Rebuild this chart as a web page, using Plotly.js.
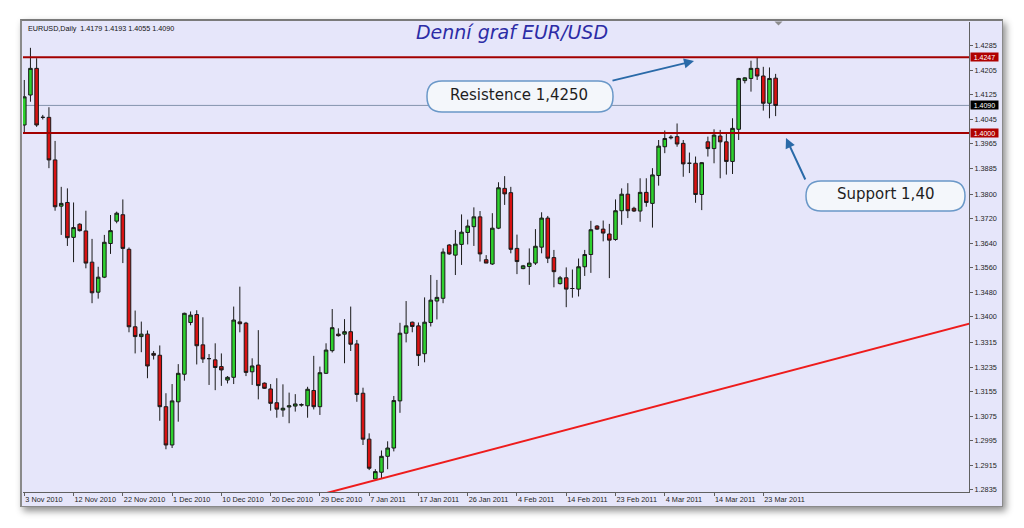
<!DOCTYPE html>
<html>
<head>
<meta charset="utf-8">
<script src="https://cdn.plot.ly/plotly-3.0.1.min.js"></script>
<style>
  html, body { margin:0; padding:0; background:#ffffff; }
  #win { position:absolute; left:20px; top:19px; width:983px; height:488px; background:#e6e6fa;
         border:1px solid #8a8a8a; border-top:2px solid #7a7a7a; border-left:2px solid #8a8a8a; box-sizing:border-box;
         box-shadow: 3px 4px 7px rgba(0,0,0,0.45); }
  #chart { position:absolute; left:0; top:0; width:1024px; height:528px; }
</style>
</head>
<body>
<div id="win"></div>
<div id="chart"></div>
<script>
// ---- data (EURUSD daily, 3 Nov 2010 - 25 Mar 2011) ----
const openP = [1.4026,1.4124,1.4211,1.4051,1.4051,1.3912,1.3761,1.3773,1.3659,1.3702,
1.3680,1.3578,1.3480,1.3529,1.3639,1.3712,1.3733,1.3620,1.3367,1.3335,
1.3343,1.3280,1.3274,1.3106,1.2981,1.3122,1.3212,1.3381,1.3407,1.3308,
1.3263,1.3259,1.3237,1.3193,1.3202,1.3383,1.3379,1.3220,1.3242,1.3183,
1.3164,1.3119,1.3095,1.3105,1.3108,1.3111,1.3109,1.3159,1.3106,1.3215,
1.3289,1.3343,1.3343,1.3351,1.3311,1.3150,1.3000,1.2870,1.2892,1.2944,
1.2971,1.3125,1.3346,1.3382,1.3370,1.3279,1.3381,1.3451,1.3460,1.3634,
1.3601,1.3636,1.3675,1.3694,1.3726,1.3586,1.3572,1.3689,1.3819,1.3805,
1.3623,1.3557,1.3564,1.3575,1.3627,1.3722,1.3593,1.3508,1.3527,1.3492,
1.3490,1.3563,1.3603,1.3696,1.3686,1.3670,1.3652,1.3746,1.3800,1.3754,
1.3745,1.3806,1.3770,1.3861,1.3955,1.3984,1.3988,1.3966,1.3901,1.3901,
1.3799,1.3971,1.3949,1.3990,1.3971,1.3907,1.4012,1.4171,1.4178,1.4211,
1.4186,1.4097,1.4179];

const highP = [1.4173,1.4278,1.4244,1.4059,1.4084,1.3974,1.3824,1.3819,1.3773,1.3705,
1.3746,1.3654,1.3563,1.3667,1.3732,1.3743,1.3783,1.3626,1.3420,1.3384,
1.3355,1.3288,1.3306,1.3150,1.3180,1.3245,1.3413,1.3417,1.3421,1.3398,
1.3278,1.3313,1.3280,1.3206,1.3433,1.3498,1.3383,1.3264,1.3356,1.3185,
1.3180,1.3199,1.3179,1.3152,1.3147,1.3117,1.3171,1.3272,1.3237,1.3313,
1.3425,1.3362,1.3392,1.3433,1.3324,1.3168,1.3019,1.2902,1.2963,1.2993,
1.3141,1.3380,1.3451,1.3384,1.3381,1.3463,1.3536,1.3520,1.3623,1.3637,
1.3683,1.3734,1.3717,1.3757,1.3745,1.3601,1.3738,1.3839,1.3859,1.3824,
1.3668,1.3569,1.3623,1.3686,1.3741,1.3729,1.3618,1.3533,1.3561,1.3554,
1.3590,1.3618,1.3713,1.3699,1.3714,1.3703,1.3783,1.3819,1.3836,1.3759,
1.3852,1.3852,1.3885,1.3977,1.4008,1.3993,1.4031,1.3977,1.3936,1.3923,
1.3905,1.3988,1.4012,1.4010,1.3997,1.4048,1.4180,1.4182,1.4236,1.4247,
1.4216,1.4214,1.4193];

const lowP = [1.3999,1.4102,1.4020,1.4044,1.3885,1.3746,1.3667,1.3631,1.3578,1.3678,
1.3558,1.3444,1.3459,1.3526,1.3605,1.3705,1.3575,1.3349,1.3280,1.3284,
1.3199,1.3260,1.3060,1.2967,1.2971,1.3057,1.3191,1.3372,1.3244,1.3249,
1.3177,1.3160,1.3174,1.3182,1.3180,1.3349,1.3206,1.3177,1.3130,1.3164,
1.3093,1.3070,1.3073,1.3052,1.3090,1.3106,1.3070,1.3097,1.3079,1.3213,
1.3283,1.3335,1.3248,1.3288,1.3122,1.2981,1.2899,1.2867,1.2873,1.2902,
1.2960,1.3086,1.3316,1.3349,1.3239,1.3251,1.3368,1.3391,1.3444,1.3602,
1.3536,1.3569,1.3636,1.3631,1.3580,1.3575,1.3569,1.3686,1.3765,1.3607,
1.3539,1.3555,1.3504,1.3569,1.3607,1.3575,1.3496,1.3505,1.3431,1.3462,
1.3466,1.3533,1.3543,1.3683,1.3646,1.3526,1.3648,1.3700,1.3722,1.3742,
1.3710,1.3759,1.3691,1.3828,1.3934,1.3979,1.3955,1.3857,1.3869,1.3772,
1.3748,1.3923,1.3901,1.3852,1.3864,1.3866,1.3977,1.4162,1.4135,1.4173,
1.4073,1.4048,1.4055];

const closeP = [1.4118,1.4211,1.4026,1.4051,1.3912,1.3759,1.3770,1.3658,1.3691,1.3681,
1.3575,1.3478,1.3529,1.3643,1.3681,1.3738,1.3623,1.3367,1.3335,1.3343,
1.3239,1.3274,1.3106,1.2981,1.3125,1.3215,1.3411,1.3405,1.3305,1.3262,
1.3263,1.3234,1.3226,1.3202,1.3389,1.3377,1.3218,1.3239,1.3175,1.3166,
1.3117,1.3098,1.3101,1.3109,1.3115,1.3113,1.3163,1.3106,1.3217,1.3291,
1.3364,1.3338,1.3351,1.3310,1.3146,1.3000,1.2905,1.2894,1.2944,1.2971,
1.3126,1.3346,1.3370,1.3368,1.3273,1.3382,1.3454,1.3463,1.3611,1.3605,
1.3637,1.3676,1.3696,1.3726,1.3605,1.3575,1.3689,1.3821,1.3801,1.3620,
1.3580,1.3566,1.3575,1.3630,1.3722,1.3591,1.3547,1.3527,1.3490,1.3492,
1.3563,1.3603,1.3684,1.3686,1.3673,1.3650,1.3746,1.3800,1.3746,1.3745,
1.3806,1.3773,1.3863,1.3957,1.3982,1.3986,1.3964,1.3899,1.3901,1.3799,
1.3903,1.3949,1.3993,1.3971,1.3907,1.4015,1.4178,1.4180,1.4211,1.4186,
1.4097,1.4178,1.4090];

const dateLabels = ['3 Nov 2010','12 Nov 2010','22 Nov 2010','1 Dec 2010','10 Dec 2010','20 Dec 2010',
  '29 Dec 2010','7 Jan 2011','17 Jan 2011','26 Jan 2011','4 Feb 2011','14 Feb 2011','23 Feb 2011',
  '4 Mar 2011','14 Mar 2011','23 Mar 2011'];
const barsPerLabel = 8;

const priceTicks = [1.4285,1.4205,1.4125,1.4045,1.3965,1.3885,1.3800,1.3720,1.3640,1.3560,
  1.3480,1.3400,1.3315,1.3235,1.3155,1.3075,1.2995,1.2915,1.2835];

const resistance = 1.4247;
const support = 1.4000;
const lastPrice = 1.4090;
const trendX = [40, 160];
const trendY = [1.2776, 1.3412];

const header = 'EURUSD,Daily  1.4179 1.4193 1.4055 1.4090';
const chartTitle = 'Denní graf EUR/USD';
const noteRes = 'Resistence 1,4250';
const noteSup = 'Support 1,40';

// ---- geometry helpers (pixel -> paper) ----
const W = 1024, H = 528;
const M = {l:23, r:55, t:22, b:36};
const PW = W - M.l - M.r, PH = H - M.t - M.b;
const X = px => (px - M.l) / PW;
const Y = py => (H - M.b - py) / PH;
function roundRect(x0, y0, x1, y1, r) {
  const p = (a, b) => X(a) + ',' + Y(b);
  return 'M' + p(x0 + r, y0) + ' L' + p(x1 - r, y0) + ' Q' + p(x1, y0) + ' ' + p(x1, y0 + r) +
    ' L' + p(x1, y1 - r) + ' Q' + p(x1, y1) + ' ' + p(x1 - r, y1) +
    ' L' + p(x0 + r, y1) + ' Q' + p(x0, y1) + ' ' + p(x0, y1 - r) +
    ' L' + p(x0, y0 + r) + ' Q' + p(x0, y0) + ' ' + p(x0 + r, y0) + ' Z';
}

const xIdx = openP.map((_, i) => i);
const tickVals = dateLabels.map((_, k) => k * barsPerLabel);

const candle = {
  type: 'candlestick',
  x: xIdx, open: openP, high: highP, low: lowP, close: closeP,
  increasing: { line: { color: '#1a1a1a', width: 1 }, fillcolor: '#2ed12e' },
  decreasing: { line: { color: '#1a1a1a', width: 1 }, fillcolor: '#d81212' },
  whiskerwidth: 0,
  hoverinfo: 'skip',
  showlegend: false
};

const trend = {
  type: 'scatter', mode: 'lines', x: trendX, y: trendY,
  line: { color: '#ee1c1c', width: 2 }, hoverinfo: 'skip', showlegend: false
};

const axisFont = { family: 'Liberation Sans, Arial, sans-serif', size: 7.3, color: '#1e1e1e' };

const shapes = [
  { type:'line', xref:'paper', x0:0, x1:1, yref:'y', y0:lastPrice, y1:lastPrice,
    line:{ color:'#8494ad', width:1 }, layer:'below' },
  { type:'line', xref:'paper', x0:0, x1:1, yref:'y', y0:resistance, y1:resistance,
    line:{ color:'#a30000', width:2 } },
  { type:'line', xref:'paper', x0:0, x1:1, yref:'y', y0:support, y1:support,
    line:{ color:'#a30000', width:2 } },
  { type:'path', xref:'paper', yref:'paper', path: roundRect(427, 81, 613, 112, 15),
    fillcolor:'#f4f7fb', line:{ color:'#6a98c8', width:1.5 } },
  { type:'path', xref:'paper', yref:'paper', path: roundRect(806, 181, 965, 211, 15),
    fillcolor:'#f4f7fb', line:{ color:'#6a98c8', width:1.5 } },
  { type:'path', xref:'paper', yref:'paper',
    path: 'M' + X(774.5) + ',' + Y(21.5) + ' L' + X(782.5) + ',' + Y(21.5) + ' L' + X(778.5) + ',' + Y(25.5) + ' Z',
    fillcolor:'#8c8c8c', line:{ width:0 } }
];

function priceBox(v, bg) {
  return { xref:'paper', x:1, xanchor:'left', xshift:1, yref:'y', y:v, yanchor:'middle',
    text: v.toFixed(4), showarrow:false, bgcolor:bg, width:27, height:8, borderpad:0,
    font:{ family:'Liberation Sans, Arial, sans-serif', size:7, color:'#ffffff' } };
}

const annotations = [
  { xref:'paper', yref:'paper', x:X(26), y:Y(29), xanchor:'left', yanchor:'middle', showarrow:false,
    text: header, font:{ family:'Liberation Sans, Arial, sans-serif', size:7.2, color:'#111111' } },
  priceBox(resistance, '#b00000'),
  priceBox(lastPrice, '#000000'),
  priceBox(support, '#b00000'),
  { xref:'paper', yref:'paper', x:X(519), y:Y(95), xanchor:'center', yanchor:'middle', showarrow:false,
    text: noteRes, font:{ family:'DejaVu Sans, sans-serif', size:15, color:'#1e1e1e' } },
  { xref:'paper', yref:'paper', x:X(885), y:Y(194), xanchor:'center', yanchor:'middle', showarrow:false,
    text: noteSup, font:{ family:'DejaVu Sans, sans-serif', size:15, color:'#1e1e1e' } },
  { xref:'paper', yref:'paper', x:X(694), y:Y(61), showarrow:true, axref:'pixel', ayref:'pixel',
    ax:-83, ay:20, arrowhead:2, arrowsize:1, arrowwidth:2, arrowcolor:'#2a6aa8', text:'' },
  { xref:'paper', yref:'paper', x:X(786), y:Y(138), showarrow:true, axref:'pixel', ayref:'pixel',
    ax:20, ay:43, arrowhead:2, arrowsize:1, arrowwidth:2, arrowcolor:'#2a6aa8', text:'' }
];

const layout = {
  width: W, height: H,
  margin: M,
  paper_bgcolor: 'rgba(0,0,0,0)',
  plot_bgcolor: '#e6e6fa',
  font: { family: 'Liberation Sans, Arial, sans-serif', size: 8, color: '#1e1e1e' },
  title: { text: '<i>' + chartTitle + '</i>', xref:'container', x: 0.5, xanchor:'center',
           yref:'container', y: 1 - 32 / H, yanchor:'middle',
           font: { family: 'DejaVu Sans, sans-serif', size: 19, color: '#2c2ca6' } },
  showlegend: false,
  hovermode: false,
  boxgap: 0.42, boxgroupgap: 0,
  xaxis: {
    type: 'linear', range: [-0.21, 153.4],
    rangeslider: { visible: false },
    tickmode: 'array', tickvals: tickVals, ticktext: dateLabels,
    ticks: 'outside', ticklen: 3, tickcolor: '#606060', tickwidth: 1,
    ticklabelposition: 'outside right', tickangle: 0,
    showgrid: false, zeroline: false,
    showline: true, linecolor: '#606060', linewidth: 1,
    tickfont: axisFont, fixedrange: true
  },
  yaxis: {
    side: 'right', range: [1.28274, 1.43624],
    tickmode: 'array', tickvals: priceTicks, ticktext: priceTicks.map(v => v.toFixed(4)),
    ticks: 'outside', ticklen: 3, tickcolor: '#606060', tickwidth: 1,
    showgrid: false, zeroline: false,
    showline: true, linecolor: '#606060', linewidth: 1,
    tickfont: axisFont, fixedrange: true
  },
  shapes: shapes,
  annotations: annotations
};

Plotly.newPlot('chart', [trend, candle], layout, { staticPlot: true, displayModeBar: false });
</script>
</body>
</html>
